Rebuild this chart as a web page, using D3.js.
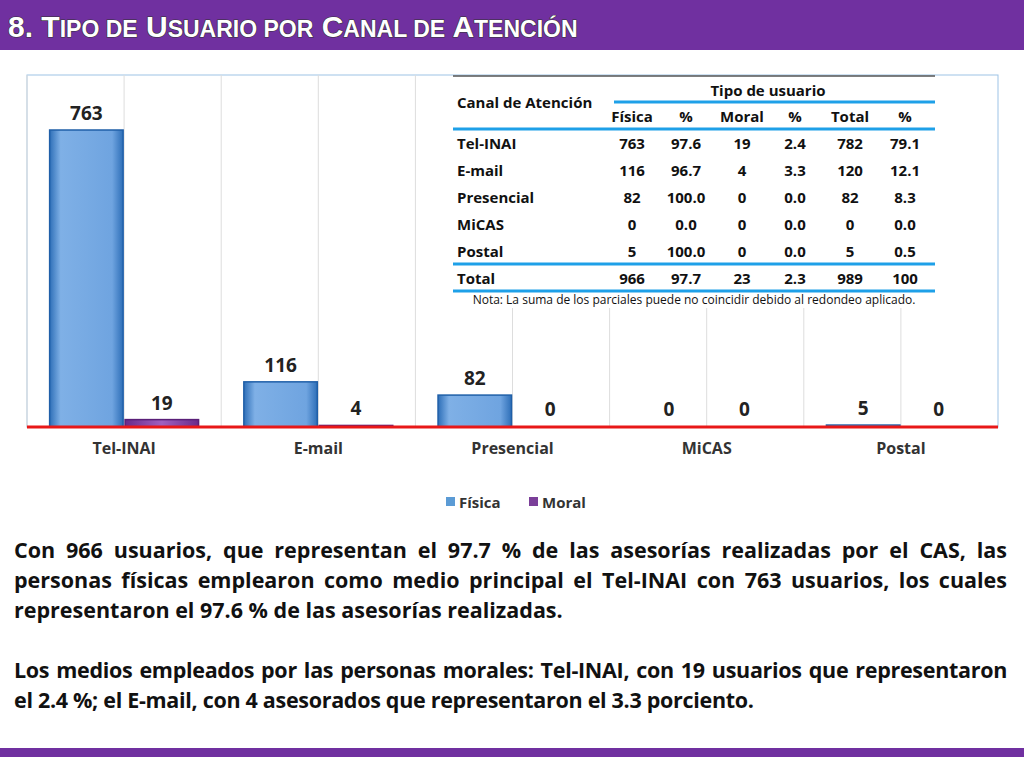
<!DOCTYPE html>
<html><head><meta charset="utf-8">
<script src="https://cdn.jsdelivr.net/npm/d3@7"></script>
<style>
body{margin:0;width:1024px;height:768px;overflow:hidden;background:#fff;font-family:"Open Sans",sans-serif}
#txt{position:absolute;left:14px;top:535px;width:993px;font-weight:bold;font-size:21.5px;line-height:30px;text-align:justify;color:#111}
#txt p{margin:0 0 30px 0}
#txt p.b{letter-spacing:-0.3px}
</style></head><body>
<svg id="c" width="1024" height="768" style="position:absolute;left:0;top:0"></svg>
<div id="txt">
<p>Con 966 usuarios, que representan el 97.7 % de las asesorías realizadas por el CAS, las personas físicas emplearon como medio principal el Tel-INAI con 763 usuarios, los cuales representaron el 97.6 % de las asesorías realizadas.</p>
<p class="b">Los medios empleados por las personas morales: Tel-INAI, con 19 usuarios que representaron el 2.4 %; el E-mail, con 4 asesorados que representaron el 3.3 porciento.</p>
</div>
<script>
// chart data
const canales = ['Tel-INAI', 'E-mail', 'Presencial', 'MiCAS', 'Postal'];
const fisica = [763, 116, 82, 0, 5];
const moral = [19, 4, 0, 0, 0];
const series = ['Física', 'Moral'];
const colores = ['#5b9bd5', '#7b3f99'];

// table data
const tablaCols = ['Física', '%', 'Moral', '%', 'Total', '%'];
const tablaFilas = ['Tel-INAI', 'E-mail', 'Presencial', 'MiCAS', 'Postal', 'Total'];
const tablaValores = [
  ['763', '97.6', '19', '2.4', '782', '79.1'],
  ['116', '96.7', '4', '3.3', '120', '12.1'],
  ['82', '100.0', '0', '0.0', '82', '8.3'],
  ['0', '0.0', '0', '0.0', '0', '0.0'],
  ['5', '100.0', '0', '0.0', '5', '0.5'],
  ['966', '97.7', '23', '2.3', '989', '100']
];

const svg = d3.select('#c');

// header bars
svg.append('rect').attr('x', 0).attr('y', 0).attr('width', 1024).attr('height', 50).attr('fill', '#7030a0');
svg.append('rect').attr('x', 0).attr('y', 748).attr('width', 1024).attr('height', 9).attr('fill', '#7030a0');
svg.append('text').attr('x', 8).attr('y', 37)
  .attr('font-family', 'Liberation Sans, Arial').attr('font-weight', 'bold').attr('font-size', 30)
  .attr('fill', '#fff').attr('stroke', '#333').attr('stroke-width', 1.2).attr('paint-order', 'stroke')
  .html('8. T<tspan font-size="23">IPO DE</tspan> U<tspan font-size="23">SUARIO POR</tspan> C<tspan font-size="23">ANAL DE</tspan> A<tspan font-size="23">TENCIÓN</tspan>');

// chart frame
const x0 = 27, x1 = 998, yTop = 75, yBase = 427;
svg.append('rect').attr('x', x0).attr('y', yTop).attr('width', x1 - x0).attr('height', yBase - yTop)
  .attr('fill', '#fff').attr('stroke', '#9dc3e6');

const x = d3.scaleBand().domain(canales).range([x0, x1]);
const xs = d3.scaleBand().domain(series).range([0, x.bandwidth()]).paddingInner(0.026).paddingOuter(0.3);
const y = d3.scaleLinear().domain([0, 763]).range([yBase, 130]);

// gridlines
canales.forEach(c => {
  [0, 0.5].forEach(f => {
    svg.append('line').attr('x1', x(c) + f * x.bandwidth()).attr('x2', x(c) + f * x.bandwidth())
      .attr('y1', yTop).attr('y2', yBase).attr('stroke', '#ddd');
  });
});

const defs = svg.append('defs');
const g1 = defs.append('linearGradient').attr('id', 'gf');
g1.append('stop').attr('offset', '0').attr('stop-color', '#2e6fb8');
g1.append('stop').attr('offset', '0.15').attr('stop-color', '#7fb0e6');
g1.append('stop').attr('offset', '0.85').attr('stop-color', '#6fa4e0');
g1.append('stop').attr('offset', '1').attr('stop-color', '#2e6fb8');
const g2 = defs.append('linearGradient').attr('id', 'gm');
g2.append('stop').attr('offset', '0').attr('stop-color', '#6a2a8a');
g2.append('stop').attr('offset', '0.5').attr('stop-color', '#a060c0');
g2.append('stop').attr('offset', '1').attr('stop-color', '#6a2a8a');

const datos = [fisica, moral];
series.forEach((s, si) => {
  svg.selectAll('.b' + si).data(canales).enter().append('rect')
    .attr('x', c => x(c) + xs(s)).attr('width', xs.bandwidth())
    .attr('y', (c, i) => y(datos[si][i])).attr('height', (c, i) => yBase - y(datos[si][i]))
    .attr('fill', si ? 'url(#gm)' : 'url(#gf)').attr('stroke', si ? '#5a1f78' : '#1f5fa8').attr('stroke-width', 1.5);
  svg.selectAll('.l' + si).data(canales).enter().append('text')
    .attr('x', c => x(c) + xs(s) + xs.bandwidth() / 2)
    .attr('y', (c, i) => Math.min(y(datos[si][i]) - 10, 416))
    .attr('text-anchor', 'middle').attr('font-weight', 'bold').attr('font-size', 19).attr('fill', '#222')
    .text((c, i) => datos[si][i]);
});

svg.append('line').attr('x1', x0).attr('x2', x1).attr('y1', yBase).attr('y2', yBase)
  .attr('stroke', '#e81818').attr('stroke-width', 3);

svg.append('g').attr('transform', `translate(0,${yBase})`)
  .call(d3.axisBottom(x).tickSize(0).tickPadding(16))
  .call(g => g.select('.domain').remove())
  .selectAll('text').attr('font-family', 'Open Sans').attr('font-weight', 'bold').attr('font-size', 16).attr('fill', '#333');

// legend
const leg = svg.append('g').attr('transform', 'translate(446,502)');
series.forEach((s, i) => {
  leg.append('rect').attr('x', i * 83).attr('y', -5).attr('width', 9).attr('height', 9).attr('fill', colores[i]);
  leg.append('text').attr('x', i * 83 + 13).attr('y', 6).attr('font-weight', 'bold').attr('font-size', 15).attr('fill', '#333').text(s);
});

// table
const t = svg.append('g').attr('font-family', 'Open Sans').attr('font-weight', 'bold').attr('font-size', 15).attr('fill', '#111');
const tx0 = 453, tx1 = 935;
const colX = [632, 686, 742, 795, 850, 905];
t.append('rect').attr('x', tx0).attr('y', 76).attr('width', tx1 - tx0).attr('height', 232).attr('fill', '#fff');
t.append('line').attr('x1', tx0).attr('x2', tx1).attr('y1', 76).attr('y2', 76).attr('stroke', '#555').attr('stroke-width', 1.5);
[[614, 102], [tx0, 129], [tx0, 264], [tx0, 291]].forEach(([a, yy]) => {
  t.append('line').attr('x1', a).attr('x2', tx1).attr('y1', yy).attr('y2', yy).attr('stroke', '#1ea0e8').attr('stroke-width', 3);
});
t.append('text').attr('x', 457).attr('y', 108).text('Canal de Atención');
t.append('text').attr('x', 768).attr('y', 96).attr('text-anchor', 'middle').text('Tipo de usuario');
tablaCols.forEach((c, i) => t.append('text').attr('x', colX[i]).attr('y', 122).attr('text-anchor', 'middle').text(c));
tablaFilas.forEach((f, r) => {
  const yy = 149 + r * 27;
  t.append('text').attr('x', 457).attr('y', yy).text(f);
  tablaValores[r].forEach((v, i) => t.append('text').attr('x', colX[i]).attr('y', yy).attr('text-anchor', 'middle').text(v));
});
t.append('text').attr('x', 694).attr('y', 304).attr('text-anchor', 'middle').attr('font-weight', 'normal').attr('font-size', 12)
  .text('Nota: La suma de los parciales puede no coincidir debido al redondeo aplicado.');
</script>
</body></html>
